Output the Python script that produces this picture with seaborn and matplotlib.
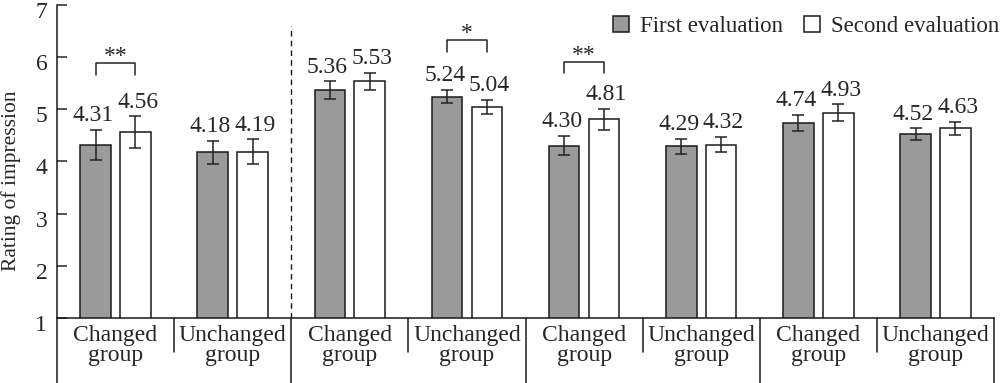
import pandas as pd
import numpy as np
import matplotlib
matplotlib.use('Agg')
import matplotlib.pyplot as plt
import matplotlib.transforms as mtransforms
import seaborn as sns

# ─────────────────────────────────────────
# DATA
# ─────────────────────────────────────────
group_labels = ['Changed\ngroup', 'Unchanged\ngroup'] * 4
first_eval = [4.31, 4.18, 5.36, 5.24, 4.30, 4.29, 4.74, 4.52]
second_eval = [4.56, 4.19, 5.53, 5.04, 4.81, 4.32, 4.93, 4.63]
first_err = [0.29, 0.22, 0.17, 0.12, 0.18, 0.14, 0.15, 0.11]
second_err = [0.30, 0.23, 0.17, 0.13, 0.20, 0.14, 0.16, 0.12]
series_names = ['First evaluation', 'Second evaluation']

sig_groups = [0, 3, 4]
sig_marks = ['**', '*', '**']
sig_heights = [5.88, 6.32, 5.91]

# long format for seaborn
df = pd.DataFrame({
    'group': list(range(len(first_eval))) * 2,
    'rating': first_eval + second_eval,
    'evaluation': [series_names[0]] * len(first_eval) + [series_names[1]] * len(second_eval),
})

# ─────────────────────────────────────────
# STYLE
# ─────────────────────────────────────────
sns.set_style('white')
plt.rcParams['font.family'] = ['Liberation Serif', 'DejaVu Serif']
plt.rcParams['font.size'] = 17
plt.rcParams['axes.linewidth'] = 1.1
FS = 17

fig = plt.figure(figsize=(10, 3.83), dpi=100)
ax = fig.add_axes([0.057, 0.169, 0.937, 0.819])

palette = {series_names[0]: '#9a9a9a', series_names[1]: 'white'}
sns.barplot(data=df, x='group', y='rating', hue='evaluation', palette=palette,
            edgecolor='#1a1a1a', linewidth=1.1, errorbar=None,
            width=0.68, gap=0.23, ax=ax)

bar_containers = list(ax.containers[:2])
centers = [[b.get_x() + b.get_width() / 2 for b in c] for c in bar_containers]

# ── error bars + value labels
for cx, vals, errs, shift in zip(centers, [first_eval, second_eval],
                                  [first_err, second_err], [-0.02, 0.02]):
    ax.errorbar(cx, vals, yerr=errs, fmt='none', ecolor='#222222',
                elinewidth=1.1, capsize=4.5, capthick=1.1, zorder=3)
    for x, v, e in zip(cx, vals, errs):
        ax.text(x + shift, v + e + 0.17, f'{v:.2f}', ha='center', va='baseline',
                fontsize=FS)

# ── significance brackets
for g, mark, h in zip(sig_groups, sig_marks, sig_heights):
    x0, x1 = centers[0][g], centers[1][g]
    ax.plot([x0, x0, x1, x1], [h - 0.22, h, h, h - 0.22], color='#222222', lw=1.1)
    ax.text((x0 + x1) / 2, h + 0.02, mark, ha='center', va='baseline', fontsize=FS)

# ── axes
ax.set_xlim(-0.5, 7.5)
ax.set_ylim(1, 7)
ax.set_yticks(range(1, 8))
ax.set_xticks(range(len(group_labels)))
ax.set_xticklabels(group_labels, linespacing=0.9)
ax.set_xlabel('')
ax.set_ylabel('Rating of impression', fontsize=15.5)
ax.yaxis.set_label_coords(-0.0385, 0.44)
ax.tick_params(axis='y', direction='in', length=7, width=1.1, pad=7, left=True)
ax.tick_params(axis='x', length=0, pad=5)
for s in ['top', 'right']:
    ax.spines[s].set_visible(False)
for s in ['left', 'bottom']:
    ax.spines[s].set_color('#1a1a1a')

# y tick labels sit a little below their ticks in the original
down = mtransforms.ScaledTranslation(0, -5 / 100, fig.dpi_scale_trans)
for lab in ax.get_yticklabels():
    lab.set_transform(lab.get_transform() + down)

# ── dashed divider
ax.plot([1.5, 1.5], [1, 6.6], color='#1a1a1a', lw=1.0, ls=(0, (4, 3)))

# ── label box separators below the axis
trans = mtransforms.blended_transform_factory(ax.transData, ax.transAxes)
for i, xb in enumerate(np.arange(-0.5, 8.0, 1.0)):
    y_end = -0.206 if i % 2 == 0 else -0.107
    ax.plot([xb, xb], [0, y_end], color='#1a1a1a', lw=1.1, transform=trans,
            clip_on=False)

# ── legend
sns.move_legend(ax, 'upper right', bbox_to_anchor=(1.006, 0.963), ncol=2,
                frameon=False, title=None, borderaxespad=0, borderpad=0,
                handlelength=0.7, handleheight=0.7, handletextpad=0.5,
                columnspacing=0.9, fontsize=16.5)

plt.savefig('out.png', dpi=100)
plt.close()
